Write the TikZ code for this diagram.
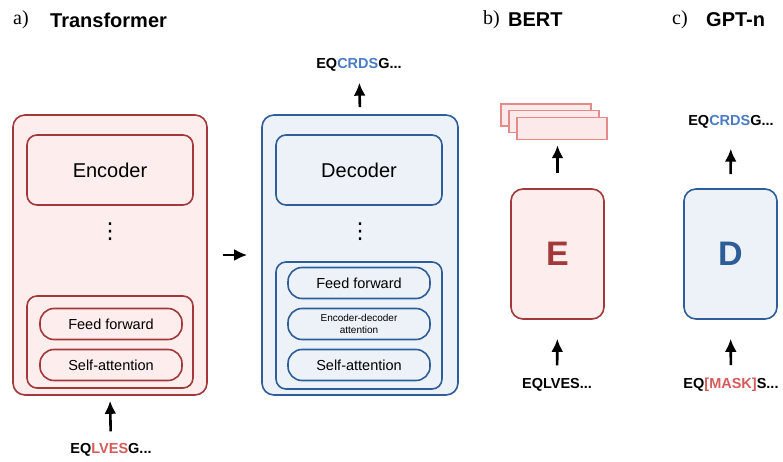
\documentclass[tikz,border=0pt]{standalone}
\usepackage{fontspec}
\setmainfont{Liberation Sans}
\newfontfamily\lblfont{Liberation Serif}
\newfontfamily\dotfont{DejaVu Sans}
\usetikzlibrary{positioning,arrows.meta}
\definecolor{encred}{HTML}{A3383A}
\definecolor{encfill}{HTML}{FDEDED}
\definecolor{decblue}{HTML}{2D5E98}
\definecolor{decfill}{HTML}{EDF2F9}
\definecolor{tokred}{HTML}{D45B5B}
\definecolor{tokblue}{HTML}{4A7BC4}
\definecolor{embred}{HTML}{E58A8A}
\definecolor{embfill}{HTML}{FCE9E9}

\begin{document}
\begin{tikzpicture}[
  x=1pt,y=-1pt,
  title/.style={anchor=west,font=\fontsize{20}{22}\selectfont\bfseries,inner sep=0pt},
  tag/.style={anchor=west,font=\lblfont\fontsize{20}{22}\selectfont,inner sep=0pt},
  encbox/.style={draw=encred,fill=encfill,line width=1.6pt,rounded corners=12pt},
  decbox/.style={draw=decblue,fill=decfill,line width=1.6pt,rounded corners=12pt},
  blockbox/.style={line width=1.6pt,rounded corners=10pt,minimum width=166pt,font=\fontsize{20}{22}\selectfont},
  pill/.style={line width=1.6pt,rounded corners=14pt,minimum width=142pt,minimum height=31pt,align=center,font=\fontsize{14.5}{16}\selectfont},
  vdots/.style={font=\dotfont\fontsize{22}{22}\selectfont,inner sep=0pt},
  token/.style={font=\fontsize{14.5}{16}\selectfont\bfseries,inner sep=0pt},
  embbox/.style={draw=embred,fill=embfill,line width=1.4pt,minimum width=90pt,minimum height=22pt},
  arrow/.style={-{Latex[length=13pt,width=12pt]},line width=2.6pt}
]
\useasboundingbox (0,0) rectangle (783,462);

% titles
\node[tag] (tagA) at (13,20) {a)};
\node[title] (ttlA) at (50,20) {Transformer};
\node[tag] (tagB) at (483,20) {b)};
\node[title] (ttlB) at (508,20) {BERT};
\node[tag] (tagC) at (672,20) {c)};
\node[title] (ttlC) at (706,20) {GPT-n};

% a) encoder
\node[encbox,minimum width=194pt,minimum height=280pt] (encA) at (110,255) {};
\node[blockbox,draw=encred,fill=encfill,minimum height=70pt] (encIn) at (110,170) {Encoder};
\node[vdots] (dotsE) at (110,232) {⋮};
\node[draw=encred,fill=encfill,line width=1.6pt,rounded corners=10pt,minimum width=166pt,minimum height=92pt] (encLay) at (110,342) {};
\node[pill,draw=encred,fill=encfill] (encFF) at (111,324) {Feed forward};
\node[pill,draw=encred,fill=encfill] (encSA) at (111,365) {Self-attention};
\node[token] (inA) at (111,450) {EQ\textcolor{tokred}{LVES}G...};
\draw[arrow,shorten <=12pt,shorten >=5pt] (inA) -- (encA.south);

% a) decoder
\node[decbox,minimum width=196pt,minimum height=280pt] (decA) at (360,255) {};
\node[blockbox,draw=decblue,fill=decfill,minimum height=70pt] (decIn) at (359,170) {Decoder};
\node[vdots] (dotsD) at (360,232) {⋮};
\node[draw=decblue,fill=decfill,line width=1.6pt,rounded corners=10pt,minimum width=166pt,minimum height=127pt] (decLay) at (359,325.5) {};
\node[pill,draw=decblue,fill=decfill] (decFF) at (359,283) {Feed forward};
\node[pill,draw=decblue,fill=decfill,font=\fontsize{10}{12}\selectfont] (decED) at (359,324) {Encoder-decoder\\attention};
\node[pill,draw=decblue,fill=decfill] (decSA) at (359,365) {Self-attention};
\node[token] (outA) at (359,65) {EQ\textcolor{tokblue}{CRDS}G...};
\draw[arrow,shorten <=7pt,shorten >=11pt] (decA.north) -- (outA);
\draw[arrow,shorten <=15pt,shorten >=14pt] (encA.east) -- (decA.west);

% b) BERT
\node[encbox,minimum width=93pt,minimum height=130pt] (encB) at (557.5,254) {};
\node[text=encred,font=\fontsize{34}{36}\selectfont\bfseries] (lblE) at (557.5,254) {E};
\node[embbox] (emb1) at (546,115) {};
\node[embbox] (emb2) at (554,121.5) {};
\node[embbox] (emb3) at (562,128.5) {};
\node[token] (inB) at (557,385) {EQLVES...};
\draw[arrow,shorten <=13pt,shorten >=19pt] (inB) -- (encB.south);
\draw[arrow,shorten <=15pt,shorten >=5pt] (encB.north) -- (emb3.south -| encB.north);

% c) GPT-n
\node[decbox,minimum width=93pt,minimum height=130pt] (decC) at (730.5,254) {};
\node[text=decblue,font=\fontsize{34}{36}\selectfont\bfseries] (lblD) at (730.5,254) {D};
\node[token] (outC) at (731,122) {EQ\textcolor{tokblue}{CRDS}G...};
\node[token] (inC) at (731,385) {EQ\textcolor{tokred}{[MASK]}S...};
\draw[arrow,shorten <=14pt,shorten >=20pt] (decC.north) -- (outC);
\draw[arrow,shorten <=13pt,shorten >=19pt] (inC) -- (decC.south);
\end{tikzpicture}
\end{document}
